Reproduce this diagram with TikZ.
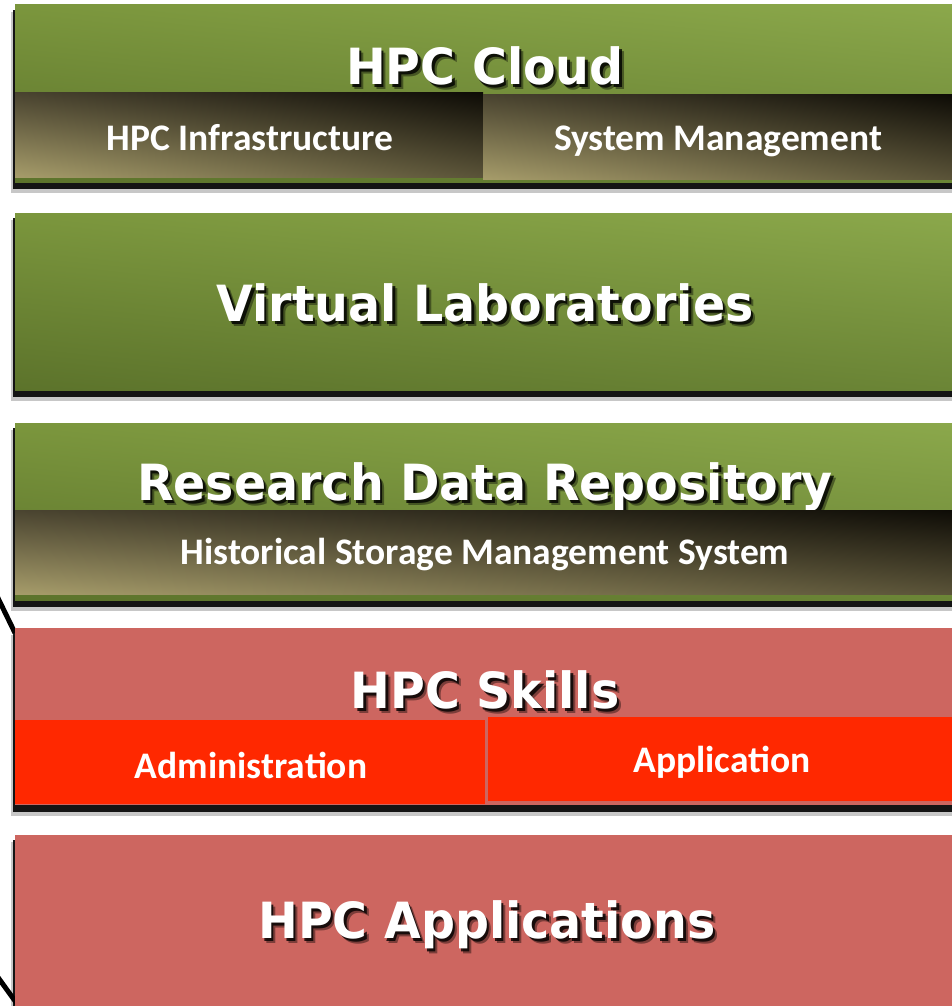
\documentclass[tikz,border=0pt]{standalone}
\usepackage{fontspec}
\usepackage{xcolor}
\usepackage{tikz}
\usetikzlibrary{shadings}
\newfontfamily\titlefont{DejaVu Sans}
\newfontfamily\labelfont{Carlito}

\definecolor{leafUL}{HTML}{7B963D}
\definecolor{leafUR}{HTML}{8BA84B}
\definecolor{leafLL}{HTML}{5C732B}
\definecolor{leafLR}{HTML}{6B8536}
\definecolor{soilLL}{HTML}{A69C6A}
\definecolor{soilUL}{HTML}{4A4430}
\definecolor{soilLR}{HTML}{5A5338}
\definecolor{soilUR}{HTML}{0E0C06}
\definecolor{brick}{HTML}{CD6660}
\definecolor{flame}{HTML}{FF2800}

\tikzset{
  greenbar/.style={upper left=leafUL, upper right=leafUR, lower left=leafLL, lower right=leafLR},
  darkbar/.style={upper left=soilUL, upper right=soilUR, lower left=soilLL, lower right=soilLR},
  redbar/.style={fill=brick},
  redsub/.style={fill=flame},
  outershadow/.style={fill=black, opacity=0.22},
  innershadow/.style={fill=black, opacity=0.9},
  layertitle/.style={font=\titlefont\bfseries\fontsize{47.5}{47.5}\selectfont, text=white, inner sep=0pt},
  sublabel/.style={font=\labelfont\bfseries\fontsize{37.5}{37.5}\selectfont, text=white, inner sep=0pt}
}

% title text with a soft black drop shadow
\newcommand\shadowtext[3]{%
  \node[layertitle, text=black, opacity=0.4, xshift=4.5pt, yshift=-5pt] (#1-s2) at #2 {\scalebox{1}[1.05]{#3}};
  \node[layertitle, text=black, opacity=0.8, xshift=2.5pt, yshift=-3pt] (#1-s1) at #2 {\scalebox{1}[1.05]{#3}};
  \node[layertitle] (#1) at #2 {\scalebox{1}[1.05]{#3}};}

\begin{document}
\begin{tikzpicture}[x=1pt, y=-1pt]
  \useasboundingbox (0,0) rectangle (952,1006);
  % outline behind the stack
  \draw[line width=5pt] (-3,596) -- (15,633);
  \draw[line width=5pt] (-3,976) -- (23,1012);
  % HPC Cloud
  \fill[outershadow] (11,12) rectangle (952,193);
  \fill[innershadow] (13,10) rectangle (952,189);
  \shade[greenbar] (15,5) rectangle (952,182);
  \shadowtext{cloud}{(485,66)}{HPC Cloud}
  \shade[darkbar] (15,93) rectangle (483,177);
  \shade[darkbar] (483,95) rectangle (952,179);
  \node[sublabel] (cloud-infra) at (250,138) {HPC Infrastructure};
  \node[sublabel] (cloud-sys) at (718,141) {System Management};
  % Virtual Laboratories
  \fill[outershadow] (11,220) rectangle (952,401);
  \fill[innershadow] (13,218) rectangle (952,397);
  \shade[greenbar] (15,213) rectangle (952,390);
  \shadowtext{vlab}{(485,303)}{Virtual Laboratories}
  % Research Data Repository
  \fill[outershadow] (11,430) rectangle (952,611);
  \fill[innershadow] (13,428) rectangle (952,607);
  \shade[greenbar] (15,423) rectangle (952,600);
  \shadowtext{repo}{(485,487)}{Research Data Repository}
  \shade[darkbar] (15,510) rectangle (952,594);
  \node[sublabel] (repo-hsm) at (485,555) {Historical Storage Management System};
  % HPC Skills
  \fill[outershadow] (11,635) rectangle (952,816);
  \fill[innershadow] (13,633) rectangle (952,812);
  \fill[redbar] (15,628) rectangle (952,805);
  \shadowtext{skills}{(485,690)}{HPC Skills}
  \fill[redsub] (15,720) rectangle (485,804);
  \fill[redsub] (488,717) rectangle (952,801);
  \node[sublabel] (skills-admin) at (251,765) {Administration};
  \node[sublabel] (skills-app) at (722,762) {Application};
  % HPC Applications
  \fill[outershadow] (11,842) rectangle (952,1010);
  \fill[innershadow] (13,840) rectangle (952,1010);
  \fill[redbar] (15,835) rectangle (952,1010);
  \shadowtext{apps}{(487,925)}{HPC Applications}
\end{tikzpicture}
\end{document}
